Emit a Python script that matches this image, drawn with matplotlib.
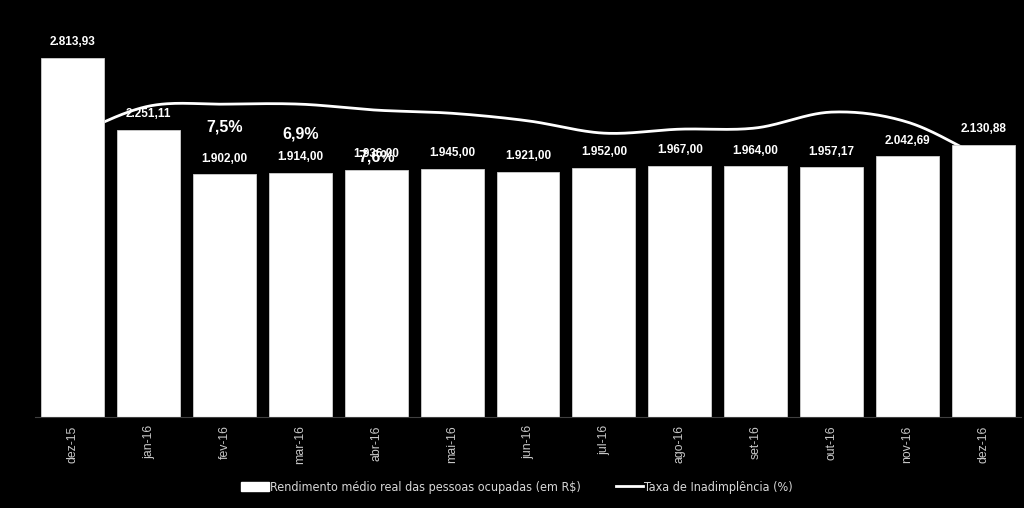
import numpy as np
import matplotlib
matplotlib.use("Agg")
import matplotlib.pyplot as plt
from matplotlib.lines import Line2D
from matplotlib.patches import Patch

# data
meses = ['dez-15', 'jan-16', 'fev-16', 'mar-16', 'abr-16', 'mai-16', 'jun-16',
         'jul-16', 'ago-16', 'set-16', 'out-16', 'nov-16', 'dez-16']
rendimento = [2813.93, 2251.11, 1902.00, 1914.00, 1936.00, 1945.00, 1921.00,
              1952.00, 1967.00, 1964.00, 1957.17, 2042.69, 2130.88]
inadimplencia = [7.10, 7.83, 7.88, 7.88, 7.73, 7.65, 7.46,
                 7.15, 7.25, 7.28, 7.68, 7.43, 6.52]
# the few line labels that show in the reference (month index, text, height)
pct_idx = [2, 3, 4]
pct_txt = ['7,5%', '6,9%', '7,6%']
pct_y = [7.30, 7.13, 6.55]


def fmt_br(v):
    s = f"{v:,.2f}"
    return s.replace(",", "X").replace(".", ",").replace("X", ".")


def smooth(x, y, n=30):
    # catmull-rom, like the "smoothed line" option of a spreadsheet chart
    x = np.asarray(x, float)
    y = np.asarray(y, float)
    px = np.concatenate([[2 * x[0] - x[1]], x, [2 * x[-1] - x[-2]]])
    py = np.concatenate([[2 * y[0] - y[1]], y, [2 * y[-1] - y[-2]]])
    t = np.linspace(0, 1, n)[:-1]
    xs, ys = [], []
    for i in range(1, len(px) - 2):
        for p, out in ((px, xs), (py, ys)):
            p0, p1, p2, p3 = p[i - 1], p[i], p[i + 1], p[i + 2]
            out.extend(0.5 * (2 * p1 + (-p0 + p2) * t
                              + (2 * p0 - 5 * p1 + 4 * p2 - p3) * t ** 2
                              + (-p0 + 3 * p1 - 3 * p2 + p3) * t ** 3))
    xs.append(x[-1])
    ys.append(y[-1])
    return np.array(xs), np.array(ys)


fig = plt.figure(figsize=(10.24, 5.08), dpi=100, facecolor='black')
ax = fig.add_axes([35 / 1024, 1 - 417 / 508, 986 / 1024, 397 / 508])
ax.set_facecolor('black')
x = np.arange(len(meses))

ax2 = ax.twinx()
ax2.set_ylim(0, 10)
ax2.axis('off')
sx, sy = smooth(x, inadimplencia)
ax2.plot(sx, sy, color='white', lw=2, zorder=1)
for i, t, yy in zip(pct_idx, pct_txt, pct_y):
    ax2.text(x[i], yy, t, color='white', fontsize=11.5, fontweight='bold',
             ha='center', va='center', family=['Liberation Sans', 'DejaVu Sans'])

# bars on top of the line, the line disappears behind the white bars
ax.set_zorder(ax2.get_zorder() + 1)
ax.patch.set_visible(False)
ax.bar(x, rendimento, width=0.83, color='white', edgecolor='#d0d0d0', lw=0.6)
for xi, v in zip(x, rendimento):
    ax.annotate(fmt_br(v), (xi, v), xytext=(0, 7), textcoords='offset points',
                ha='center', va='bottom', color='white', fontsize=8.5,
                fontweight='bold', family=['Liberation Sans', 'DejaVu Sans'])

ax.set_xlim(-0.5, len(meses) - 0.5)
ax.set_ylim(0, 3112)
ax.set_yticks([])
ax.set_xticks(x)
ax.set_xticklabels(meses, rotation=90, color='#c8c8c8', fontsize=8.8,
                   family=['Liberation Sans', 'DejaVu Sans'])
ax.tick_params(axis='x', length=0, pad=6)
for s in ['top', 'right', 'left']:
    ax.spines[s].set_visible(False)
ax.spines['bottom'].set_color('#404040')

handles = [Patch(facecolor='white', edgecolor='white'),
           Line2D([0], [0], color='white', lw=2)]
labels = ['Rendimento médio real das pessoas ocupadas (em R$)',
          'Taxa de Inadimplência (%)']
fig.legend(handles, labels, loc='center', bbox_to_anchor=(0.505, 1 - 487 / 508),
           ncol=2, frameon=False, labelcolor='#d8d8d8',
           handlelength=2.2, handletextpad=0.1, columnspacing=2.8,
           prop={'family': 'DejaVu Sans', 'stretch': 'condensed', 'size': 9})

fig.savefig('out.png', dpi=100, facecolor='black')
